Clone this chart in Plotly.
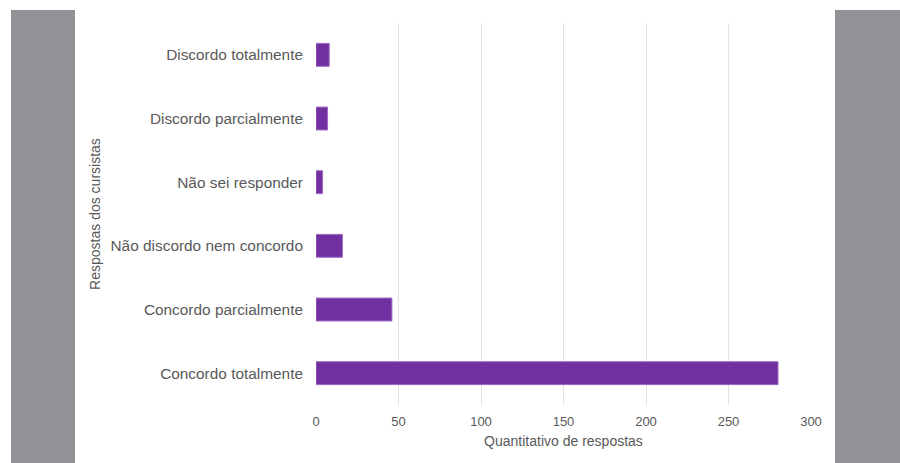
import plotly.graph_objects as go

categories = ["Concordo totalmente", "Concordo parcialmente", "Não discordo nem concordo",
              "Não sei responder", "Discordo parcialmente", "Discordo totalmente"]
values = [280, 46, 16, 4, 7, 8]
x_ticks = [0, 50, 100, 150, 200, 250, 300]

W, H = 900, 463
L, R, T, B = 316, 89, 23, 58
pw, ph = W - L - R, H - T - B

def px_x(p):
    return (p - L) / pw

def px_y(p):
    return (H - B - p) / ph

fig = go.Figure(go.Bar(
    x=values, y=categories, orientation="h",
    marker=dict(color="#7030A0", line=dict(color="#9E6BC2", width=1)),
    width=0.36,
))

shapes = [
    dict(type="rect", xref="paper", yref="paper", x0=px_x(11), x1=px_x(75), y0=px_y(463), y1=px_y(10),
         fillcolor="#939397", line=dict(width=0), layer="below"),
    dict(type="rect", xref="paper", yref="paper", x0=px_x(835), x1=px_x(900), y0=px_y(463), y1=px_y(10),
         fillcolor="#939397", line=dict(width=0), layer="below"),
]

fig.update_layout(
    width=W, height=H,
    margin=dict(l=L, r=R, t=T, b=B, autoexpand=False),
    paper_bgcolor="white", plot_bgcolor="white",
    font=dict(family="Liberation Sans, Arial, sans-serif", color="#595959"),
    showlegend=False,
    shapes=shapes,
    xaxis=dict(range=[0, 300], tickvals=x_ticks, showgrid=True, gridcolor="#E3E3E3", gridwidth=1,
               zeroline=False, showline=False, tickfont=dict(size=13, color="#595959"),
               ticks="outside", ticklen=4, tickcolor="rgba(0,0,0,0)",
               title=dict(text="Quantitativo de respostas", font=dict(size=14, color="#595959"), standoff=8),
               automargin=False, fixedrange=True),
    yaxis=dict(categoryorder="array", categoryarray=categories, showgrid=False, zeroline=False,
               showline=False, tickfont=dict(size=15.4, color="#595959"), ticklabelstandoff=12,
               title=dict(text="Respostas dos cursistas", font=dict(size=14, color="#595959"), standoff=6),
               automargin=False, fixedrange=True),
)

fig.write_html("out.html")
